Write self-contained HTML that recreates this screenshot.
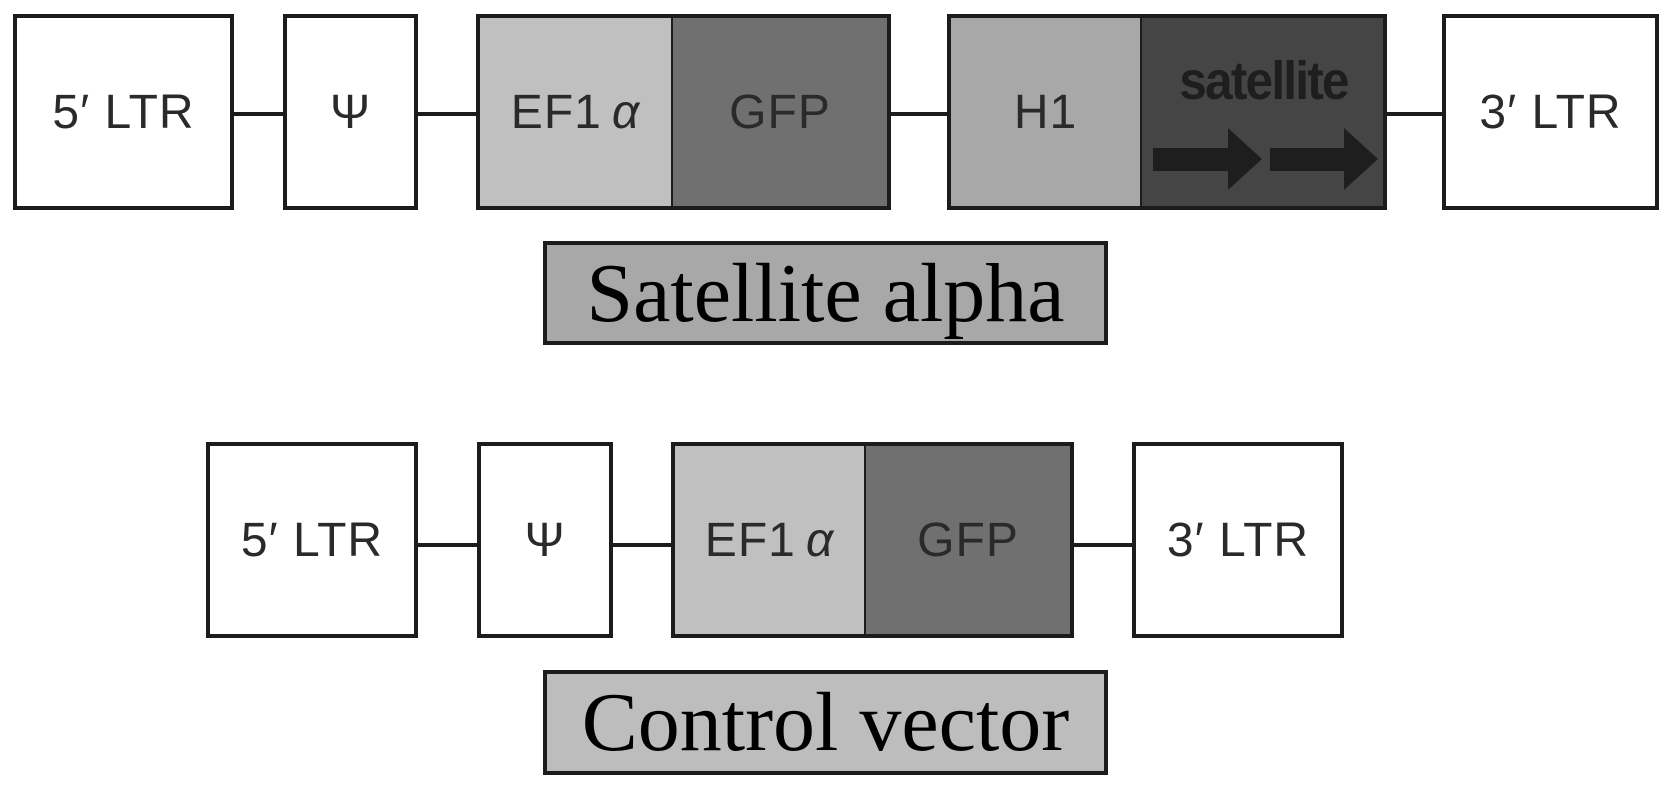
<!DOCTYPE html>
<html><head><meta charset="utf-8"><style>
body{margin:0;background:#fff;width:1677px;height:796px;overflow:hidden;position:relative;font-family:"Liberation Sans",sans-serif}
.b{position:absolute;box-sizing:border-box;border:4px solid #1c1c1c;display:flex;align-items:center;justify-content:center;font-size:48px;color:#2a2a2a;letter-spacing:1px}
.l{position:absolute;height:4px;background:#1c1c1c}
.lab{position:absolute;box-sizing:border-box;border:4px solid #1c1c1c;display:flex;align-items:center;justify-content:center;font-family:"Liberation Serif",serif;font-size:84px;color:#000}
</style></head><body>
<div class="l" style="left:230px;width:56px;top:112px"></div>
<div class="l" style="left:414px;width:64px;top:112px"></div>
<div class="l" style="left:887px;width:62px;top:112px"></div>
<div class="l" style="left:1383px;width:61px;top:112px"></div>
<div class="b" style="left:13px;top:14px;width:221px;height:196px">5′ LTR</div>
<div class="b" style="left:283px;top:14px;width:135px;height:196px">Ψ</div>
<div class="b" style="left:476px;top:14px;width:197px;height:196px;background:#c0c0c0;border-right:2px solid #1c1c1c">EF1<i style="margin-left:10px">α</i></div>
<div class="b" style="left:671px;top:14px;width:220px;height:196px;background:#707070;border-left:2px solid #1c1c1c">GFP</div>
<div class="b" style="left:947px;top:14px;width:195px;height:196px;background:#a8a8a8;border-right:2px solid #1c1c1c">H1</div>
<div class="b" style="left:1140px;top:14px;width:247px;height:196px;background:#454545;border-left:2px solid #1c1c1c"></div>
<div style="position:absolute;left:1140px;top:50px;width:247px;text-align:center;font-weight:bold;font-size:54px;color:#1e1e1e;letter-spacing:-2px;transform:scaleX(0.92)">satellite</div>
<svg style="position:absolute;left:0;top:0" width="1677" height="796">
<polygon points="1153,148 1228,148 1228,128 1262,159 1228,190 1228,171 1153,171" fill="#1e1e1e"/>
<polygon points="1270,148 1344,148 1344,128 1378,159 1344,190 1344,171 1270,171" fill="#1e1e1e"/>
</svg>
<div class="b" style="left:1442px;top:14px;width:217px;height:196px">3′ LTR</div>
<div class="lab" style="left:543px;top:241px;width:565px;height:104px;background:#a8a8a8">Satellite alpha</div>

<div class="l" style="left:415px;width:64px;top:543px"></div>
<div class="l" style="left:610px;width:63px;top:543px"></div>
<div class="l" style="left:1070px;width:64px;top:543px"></div>
<div class="b" style="left:206px;top:442px;width:212px;height:196px">5′ LTR</div>
<div class="b" style="left:477px;top:442px;width:136px;height:196px">Ψ</div>
<div class="b" style="left:671px;top:442px;width:195px;height:196px;background:#c0c0c0;border-right:2px solid #1c1c1c">EF1<i style="margin-left:10px">α</i></div>
<div class="b" style="left:864px;top:442px;width:210px;height:196px;background:#707070;border-left:2px solid #1c1c1c">GFP</div>
<div class="b" style="left:1132px;top:442px;width:212px;height:196px">3′ LTR</div>
<div class="lab" style="left:543px;top:670px;width:565px;height:105px;background:#bdbdbd">Control vector</div>
</body></html>
